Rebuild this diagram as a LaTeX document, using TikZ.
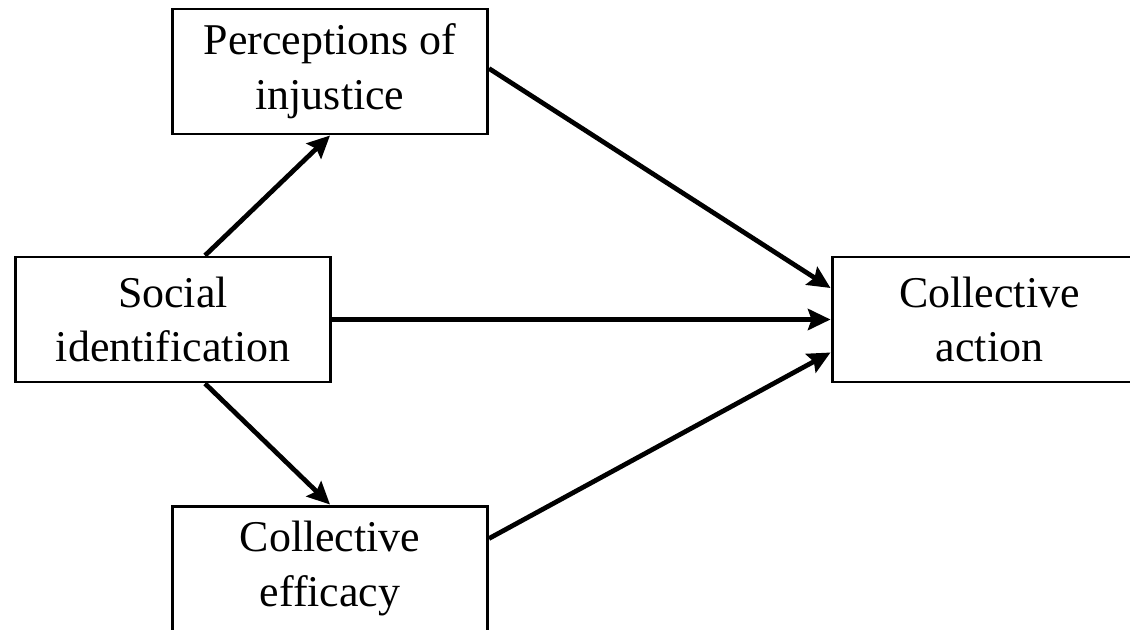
\documentclass[tikz,border=0pt]{standalone}
\usepackage{fontspec}
\setmainfont{Liberation Serif}
\usetikzlibrary{arrows.meta}

\begin{document}
\begin{tikzpicture}[->,>={Stealth[length=6.4pt,width=6pt,inset=1pt]},line width=1.35pt,
                    font=\fontsize{12.5}{15.6}\selectfont]
  \tikzstyle{box}=[rectangle,draw=black,text=black,line width=0.85pt,align=center,
                   minimum width=3.15cm,minimum height=1.25cm,inner sep=0pt]

  \useasboundingbox (0,0) rectangle (11.30,6.29);
  \clip (0,0) rectangle (11.30,6.29);

  \node[box]         (SI) at (1.73,3.095) {Social\\identification};
  \node[box]         (PI) at (3.30,5.575) {Perceptions of\\injustice};
  \node[box]         (CE) at (3.30,0.605) {Collective\\efficacy};
  \node[box]         (CA) at (9.895,3.095) {Collective\\action};

  \path ([xshift=0.32cm]SI.north) edge (PI.south)
        ([xshift=0.32cm]SI.south) edge (CE.north)
        ([yshift=0.03cm]PI.east)  edge ([yshift=0.315cm]CA.west)
        (SI.east)                 edge (CA.west)
        ([yshift=0.3cm]CE.east)   edge ([yshift=-0.33cm]CA.west);
\end{tikzpicture}
\end{document}
